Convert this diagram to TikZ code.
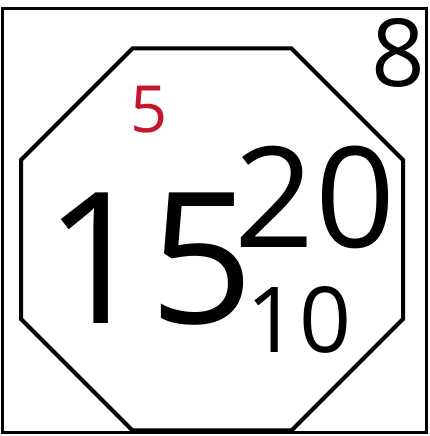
\documentclass[tikz,border=0pt]{standalone}
\usepackage{fontspec}
\setmainfont{Open Sans}
\usepackage{xcolor}
\definecolor{signred}{RGB}{196,22,46}

\begin{document}
\begin{tikzpicture}[
    x=1pt, y=1pt,
    frame/.style={draw=black, line width=3pt},
    octa/.style={draw=black, line width=4pt, line join=miter},
    num/.style={inner sep=0pt, anchor=base, text=black},
]
\useasboundingbox (0,0) rectangle (430,436);

% Outer frame
\draw[frame] (2,3) rectangle (426,427);

% Octagon
\draw[octa] (132.5,387.5) -- (291.5,387.5) -- (403,276) -- (403,117)
    -- (291.5,5.5) -- (132.5,5.5) -- (21,117) -- (21,276) -- cycle;

% Numbers
\node[num, font=\fontsize{183}{183}\selectfont] (main) at (149,112) {15};
\node[num, font=\fontsize{140}{140}\selectfont] (upper) at (315,188) {20};
\node[num, font=\fontsize{91}{91}\selectfont] (lower) at (299,83) {10};
\node[num, font=\fontsize{94}{94}\selectfont] (corner) at (398,349) {8};
\node[num, text=signred, font=\fontsize{65}{65}\selectfont] (small) at (149,303) {5};

\end{tikzpicture}
\end{document}
